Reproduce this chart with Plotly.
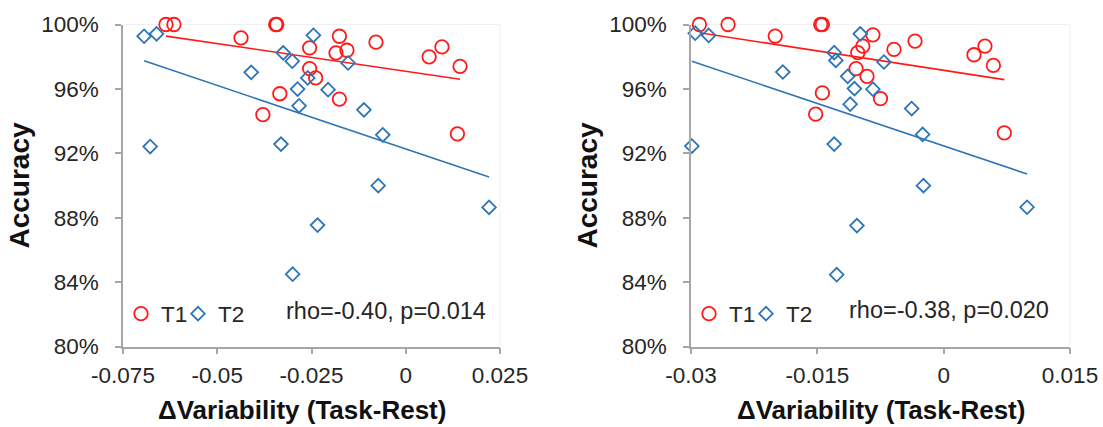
import numpy as np
import plotly.graph_objects as go

# ---------------- data ----------------
left_t1_x = [-0.0636, -0.0615, -0.0437, -0.0345, -0.0342, -0.0379, -0.0334, -0.0176, -0.0079, -0.0255,
             -0.0185, -0.0156, 0.0096, 0.0062, 0.0144, -0.0255, -0.0239, -0.0176, 0.0137]
left_t1_y = [100.0, 100.0, 99.17, 100.0, 100.0, 94.40, 95.70, 99.27, 98.90, 98.55,
             98.24, 98.40, 98.61, 97.99, 97.40, 97.26, 96.68, 95.37, 93.21]
left_t2_x = [-0.0694, -0.0661, -0.0410, -0.0678, -0.0245, -0.0325, -0.0301, -0.0153, -0.0260, -0.0287,
             -0.0206, -0.0283, -0.0111, -0.0061, -0.0331, -0.0073, 0.0221, -0.0234, -0.0300]
left_t2_y = [99.27, 99.42, 97.03, 92.42, 99.33, 98.24, 97.72, 97.61, 96.68, 95.99,
             95.95, 94.95, 94.70, 93.15, 92.57, 89.99, 88.64, 87.54, 84.49]

right_t1_x = [-0.0290, -0.0256, -0.0200, -0.0146, -0.0144, -0.0144, -0.0152, -0.0084, -0.0096, -0.0102,
              -0.0059, -0.0034, 0.0049, 0.0036, 0.0059, -0.0104, -0.0091, -0.0075, 0.0072]
right_t1_y = [100.0, 100.0, 99.28, 100.0, 100.0, 95.75, 94.43, 99.36, 98.66, 98.25,
              98.45, 98.97, 98.66, 98.12, 97.46, 97.26, 96.78, 95.40, 93.27]
right_t2_x = [-0.0295, -0.0279, -0.0191, -0.0299, -0.0130, -0.0128, -0.0130, -0.0099, -0.0071, -0.0114,
              -0.0106, -0.0084, -0.0111, -0.0038, -0.0025, -0.0024, 0.0099, -0.0103, -0.0127]
right_t2_y = [99.46, 99.32, 97.05, 92.45, 98.25, 97.77, 92.57, 99.42, 97.67, 96.78,
              96.02, 95.98, 95.05, 94.78, 93.17, 89.99, 88.65, 87.51, 84.46]

series_names = ["T1", "T2"]
stats_text = ["rho=-0.40, p=0.014", "rho=-0.38, p=0.020"]

left_xticks = [-0.075, -0.05, -0.025, 0, 0.025]
left_xticktext = ["-0.075", "-0.05", "-0.025", "0", "0.025"]
right_xticks = [-0.03, -0.015, 0, 0.015]
right_xticktext = ["-0.03", "-0.015", "0", "0.015"]
yticks = [80, 84, 88, 92, 96, 100]
yticktext = ["80%", "84%", "88%", "92%", "96%", "100%"]

x_title = "ΔVariability (Task-Rest)"
y_title = "Accuracy"

# ---------------- style ----------------
RED = "#ff1a1a"
BLUE = "#2e75b6"
AXIS = "#a6a6a6"
TXT = "#262626"
FONT = "Liberation Sans, Arial, sans-serif"
W, H = 1103, 427

fig = go.Figure()


def add_panel(xs1, ys1, xs2, ys2, xa, ya, legends):
    for xs, ys, name, color, symbol, size, lg in [
        (xs1, ys1, series_names[0], RED, "circle-open", 13.5, legends[0]),
        (xs2, ys2, series_names[1], BLUE, "diamond-open", 10.5, legends[1]),
    ]:
        fig.add_trace(go.Scatter(
            x=xs, y=ys, mode="markers", name=name,
            marker=dict(symbol=symbol, size=size, color=color, line=dict(width=1.8, color=color)),
            xaxis=xa, yaxis=ya, legend=lg, cliponaxis=False,
        ))
        # least-squares trend line across the data range
        a, b = np.polyfit(xs, ys, 1)
        lx = np.array([min(xs), max(xs)])
        fig.add_trace(go.Scatter(
            x=lx, y=a * lx + b, mode="lines", line=dict(color=color, width=1.6),
            xaxis=xa, yaxis=ya, showlegend=False, hoverinfo="skip",
        ))


add_panel(left_t1_x, left_t1_y, left_t2_x, left_t2_y, "x", "y", ("legend", "legend2"))
add_panel(right_t1_x, right_t1_y, right_t2_x, right_t2_y, "x2", "y2", ("legend3", "legend4"))

dom_l = [123 / W, 500 / W]
dom_r = [691 / W, 1070 / W]
dom_y = [1 - 346.5 / H, 1 - 24.5 / H]

axis_common = dict(
    showline=True, linecolor=AXIS, linewidth=1.5, ticks="outside", ticklen=6,
    tickcolor=AXIS, tickwidth=1.5, showgrid=False, zeroline=False, automargin=False,
    tickfont=dict(family=FONT, size=22.5, color=TXT),
)
ytitle = dict(text=y_title, font=dict(family=FONT, size=28, color="#111", weight="bold"), standoff=3)


def legend_at(px):
    return dict(orientation="h", x=px / W, y=1 - 314 / H, xanchor="left", yanchor="middle",
                bgcolor="rgba(0,0,0,0)", font=dict(family=FONT, size=22.5, color=TXT),
                itemwidth=30, borderwidth=0)


fig.update_layout(
    width=W, height=H, margin=dict(l=0, r=0, t=0, b=0, autoexpand=False),
    paper_bgcolor="white", plot_bgcolor="white",
    showlegend=True,
    xaxis=dict(domain=dom_l, range=[-0.075, 0.025], tickmode="array", tickvals=left_xticks,
               ticktext=left_xticktext, anchor="y", ticklabelstandoff=2, **axis_common),
    yaxis=dict(domain=dom_y, range=[80, 100], tickmode="array", tickvals=yticks, ticktext=yticktext,
               anchor="x", ticklabelstandoff=12, title=ytitle, **axis_common),
    xaxis2=dict(domain=dom_r, range=[-0.03, 0.015], tickmode="array", tickvals=right_xticks,
                ticktext=right_xticktext, anchor="y2", ticklabelstandoff=2, **axis_common),
    yaxis2=dict(domain=dom_y, range=[80, 100], tickmode="array", tickvals=yticks, ticktext=yticktext,
                anchor="x2", ticklabelstandoff=12, title=ytitle, **axis_common),
    legend=legend_at(121),
    legend2=legend_at(178),
    legend3=legend_at(689),
    legend4=legend_at(746),
)

# faint plot-area border (top/right) like the source
for d in (dom_l, dom_r):
    fig.add_shape(type="line", xref="paper", yref="paper", x0=d[0], x1=d[1], y0=dom_y[1], y1=dom_y[1],
                  line=dict(color="#f0f0f0", width=1), layer="below")
    fig.add_shape(type="line", xref="paper", yref="paper", x0=d[1], x1=d[1], y0=dom_y[0], y1=dom_y[1],
                  line=dict(color="#f0f0f0", width=1), layer="below")

# x-axis titles
for cx in (302, 881):
    fig.add_annotation(text=x_title, xref="paper", yref="paper", x=cx / W, y=1 - 410 / H,
                       xanchor="center", yanchor="middle", showarrow=False,
                       font=dict(family=FONT, size=26, color="#111", weight="bold"))

# correlation annotations
fig.add_annotation(text=stats_text[0], xref="paper", yref="paper", x=386 / W, y=1 - 311 / H,
                   xanchor="center", yanchor="middle",
                   showarrow=False, font=dict(family=FONT, size=23.5, color=TXT))
fig.add_annotation(text=stats_text[1], xref="paper", yref="paper", x=949 / W, y=1 - 310 / H,
                   xanchor="center", yanchor="middle",
                   showarrow=False, font=dict(family=FONT, size=23.5, color=TXT))

fig.write_html("out.html", post_script="document.body.style.margin='0';",
               config={"displayModeBar": False})
